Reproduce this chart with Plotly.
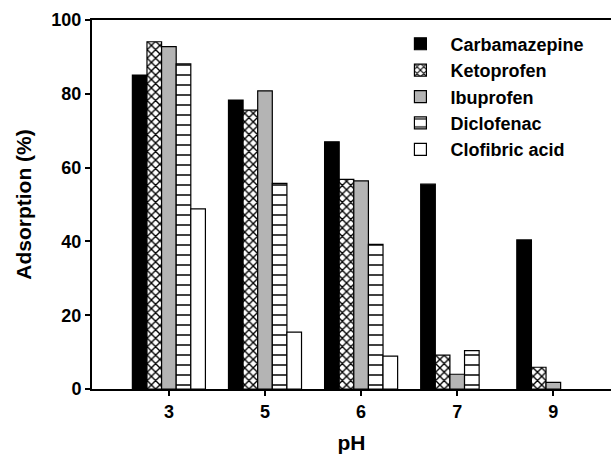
import plotly.graph_objects as go

ph_labels = ["3", "5", "6", "7", "9"]
carbamazepine = [85.1, 78.3, 67.0, 55.5, 40.4]
ketoprofen = [94.1, 75.6, 56.8, 9.2, 5.9]
ibuprofen = [92.8, 80.8, 56.4, 4.0, 1.8]
diclofenac = [88.1, 55.7, 39.2, 10.4, 0]
clofibric = [48.8, 15.4, 8.9, 0, 0]

FONT = "Arial, Liberation Sans, sans-serif"


def outline(vals):
    return dict(color="black", width=[0 if v == 0 else 1.2 for v in vals])


fig = go.Figure()
fig.add_bar(x=ph_labels, y=carbamazepine, name="Carbamazepine",
            marker=dict(color="black", line=outline(carbamazepine)))
fig.add_bar(x=ph_labels, y=ketoprofen, name="Ketoprofen",
            marker=dict(color="white", line=outline(ketoprofen),
                        pattern=dict(shape="x", fgcolor="black", bgcolor="white",
                                     size=6, solidity=0.4, fillmode="replace")))
fig.add_bar(x=ph_labels, y=ibuprofen, name="Ibuprofen",
            marker=dict(color="#b4b4b4", line=outline(ibuprofen)))
fig.add_bar(x=ph_labels, y=diclofenac, name="Diclofenac",
            marker=dict(color="white", line=outline(diclofenac),
                        pattern=dict(shape="-", fgcolor="black", bgcolor="white",
                                     size=10, solidity=0.15, fillmode="replace")))
fig.add_bar(x=ph_labels, y=clofibric, name="Clofibric acid",
            marker=dict(color="white", line=outline(clofibric)))

fig.update_layout(
    width=611, height=455,
    margin=dict(l=92, r=0, t=20, b=66),
    plot_bgcolor="white", paper_bgcolor="white",
    barmode="group", bargap=0.24, bargroupgap=0,
    font=dict(family=FONT, color="black", size=18, weight="bold"),
    showlegend=True,
    legend=dict(x=0.575, y=0.985, xanchor="left", yanchor="top",
                font=dict(size=18, family=FONT, weight="bold"),
                itemwidth=50,
                bgcolor="rgba(0,0,0,0)", tracegroupgap=0),
)
fig.update_xaxes(
    type="category", range=[-0.8, 4.6],
    showline=True, linecolor="black", linewidth=2, mirror=True,
    ticks="outside", ticklen=5, tickwidth=1.5, tickcolor="black",
    showgrid=False,
    tickfont=dict(size=18, family=FONT, weight="bold"),
    title=dict(text="pH", font=dict(size=21, family=FONT, weight="bold"), standoff=15),
)
fig.update_yaxes(
    range=[0, 100], tickvals=[0, 20, 40, 60, 80, 100],
    showline=True, linecolor="black", linewidth=2,
    ticks="outside", ticklen=5, tickwidth=1.5, tickcolor="black",
    showgrid=False, zeroline=False,
    tickfont=dict(size=18, family=FONT, weight="bold"),
    title=dict(text="Adsorption (%)", font=dict(size=21, family=FONT, weight="bold"), standoff=14),
)

fig.write_html("out.html")
